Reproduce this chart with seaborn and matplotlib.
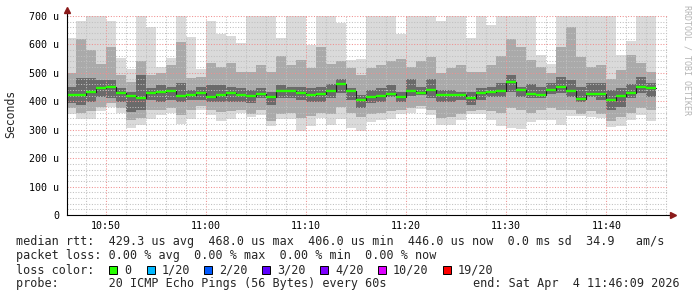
import numpy as np
import pandas as pd
import matplotlib
matplotlib.use("Agg")
import matplotlib.pyplot as plt
from matplotlib.patches import Rectangle
from matplotlib.ticker import FixedLocator, MultipleLocator
import seaborn as sns

# ---------------- data (values in microseconds) ----------------
bar_start = pd.date_range("2026-04-04 10:46", "2026-04-04 11:44", freq="1min")

median = [421, 421, 433, 446, 450, 429, 418, 411, 428, 432, 435, 418, 421, 428, 414,
          421, 428, 422, 418, 425, 415, 436, 436, 428, 421, 425, 436, 461, 435, 406,
          414, 419, 425, 415, 436, 429, 440, 422, 422, 422, 412, 429, 433, 436, 468,
          438, 426, 422, 440, 450, 436, 408, 426, 425, 406, 419, 429, 450, 446]

ping_max = [621, 684, 700, 700, 682, 553, 515, 700, 660, 522, 553, 700, 627, 515, 682,
            638, 630, 604, 700, 700, 700, 621, 700, 700, 597, 700, 700, 675, 546, 547,
            700, 700, 700, 638, 700, 700, 700, 681, 700, 700, 623, 700, 667, 700, 700,
            700, 700, 563, 530, 700, 700, 700, 700, 700, 700, 563, 612, 700, 700]

ping_min = [357, 339, 336, 365, 380, 359, 306, 316, 336, 351, 359, 321, 339, 371, 351,
            331, 336, 359, 345, 351, 312, 336, 339, 294, 312, 341, 318, 339, 306, 296,
            327, 333, 336, 357, 359, 374, 351, 316, 316, 333, 357, 357, 333, 312, 306,
            302, 327, 333, 333, 318, 350, 347, 345, 341, 310, 312, 333, 351, 331]

mid_hi = [499, 620, 580, 530, 590, 493, 469, 540, 493, 500, 528, 609, 481, 485, 534,
          522, 534, 504, 504, 528, 504, 560, 528, 544, 516, 590, 532, 540, 516, 493,
          516, 528, 540, 550, 520, 540, 555, 500, 516, 528, 504, 504, 528, 560, 620,
          592, 545, 520, 500, 592, 660, 557, 522, 528, 480, 510, 563, 534, 504]

mid_lo = [375, 358, 365, 380, 395, 375, 335, 340, 369, 370, 375, 352, 370, 385, 370,
          363, 365, 370, 355, 370, 330, 355, 360, 340, 350, 360, 355, 380, 360, 345,
          355, 360, 365, 370, 375, 385, 370, 340, 345, 355, 365, 370, 365, 360, 375,
          370, 360, 370, 375, 370, 370, 355, 365, 355, 330, 345, 360, 375, 370]

core_hi = [452, 481, 481, 475, 475, 446, 434, 493, 446, 457, 451, 465, 440, 450, 457,
           457, 451, 446, 440, 446, 434, 457, 451, 451, 446, 451, 460, 480, 446, 422,
           440, 446, 457, 434, 480, 451, 480, 440, 440, 434, 434, 446, 451, 465, 493,
           451, 460, 450, 464, 487, 475, 451, 464, 464, 440, 446, 460, 487, 463]

core_lo = [393, 387, 399, 416, 410, 399, 364, 370, 405, 399, 405, 399, 405, 405, 399,
           399, 399, 399, 393, 410, 387, 410, 410, 405, 399, 399, 410, 430, 405, 375,
           393, 399, 416, 399, 420, 422, 410, 399, 399, 405, 387, 405, 416, 416, 434,
           416, 410, 410, 425, 430, 416, 399, 416, 405, 369, 381, 410, 428, 416]

y_ticks = [0, 100, 200, 300, 400, 500, 600, 700]
y_tick_labels = ["0", "100 u", "200 u", "300 u", "400 u", "500 u", "600 u", "700 u"]
x_ticks = ["10:50", "11:00", "11:10", "11:20", "11:30", "11:40"]

loss_labels = ["0", "1/20", "2/20", "3/20", "4/20", "10/20", "19/20"]
loss_colors = ["#26ff00", "#00b8ff", "#0059ff", "#5e00ff", "#7e00ff", "#dd00ff", "#ff0000"]

legend_rows = [
    "median rtt:  429.3 us avg  468.0 us max  406.0 us min  446.0 us now  0.0 ms sd  34.9   am/s",
    "packet loss: 0.00 % avg  0.00 % max  0.00 % min  0.00 % now",
    "loss color:",
    "probe:       20 ICMP Echo Pings (56 Bytes) every 60s",
]
end_text = "end: Sat Apr  4 11:46:09 2026"
watermark = "RRDTOOL / TOBI OETIKER"

# ---------------- figure ----------------
sns.set_theme(style="white")
plt.rcParams['font.family'] = ['DejaVu Sans Mono', 'DejaVu Sans']

W, H = 697, 297
fig = plt.figure(figsize=(W / 100, H / 100), dpi=100, facecolor="white")
ax = fig.add_axes([67 / W, (H - 215) / H, (668 - 67) / W, 199 / H])
ax.set_facecolor("white")

def to_min(ts):
    return (ts.hour - 10) * 60 + ts.minute + ts.second / 60.0

x0 = np.array([to_min(t) for t in bar_start])
med = np.array(median, float)

def band(lo, hi, color, z):
    lo = np.array(lo, float); hi = np.array(hi, float)
    ax.bar(x0, hi - lo, bottom=lo, width=1.0, align="edge", color=color,
           linewidth=0, zorder=z)

band(ping_min, ping_max, "#dadada", 1.0)
band(mid_lo, mid_hi, "#aaaaaa", 1.1)
band(core_lo, core_hi, "#6a6a6a", 1.2)

# median: dark step line + loss coloured segments
step_df = pd.DataFrame({"t": np.append(x0, x0[-1] + 1), "rtt": np.append(med, med[-1])})
sns.lineplot(data=step_df, x="t", y="rtt", ax=ax, drawstyle="steps-post",
             color="#202020", linewidth=0.8, zorder=3)
ax.hlines(med, x0, x0 + 1, colors=loss_colors[0], linewidth=1.7, zorder=4)

start_min = 46 + 9 / 60
ax.set_xlim(start_min, start_min + 60)
ax.set_ylim(0, 700)
ax.set_xlabel("")
ax.set_ylabel("")

ax.xaxis.set_major_locator(FixedLocator([50, 60, 70, 80, 90, 100]))
ax.set_xticklabels(x_ticks)
ax.xaxis.set_minor_locator(MultipleLocator(2))
ax.yaxis.set_major_locator(FixedLocator(y_ticks))
ax.set_yticklabels(y_tick_labels)
ax.yaxis.set_minor_locator(MultipleLocator(20))

ax.set_axisbelow(False)
ax.grid(which="minor", color="#c0c0c0", linewidth=0.75, linestyle=(0, (1, 1.6)), zorder=2.5)
ax.grid(which="major", color="#f09090", linewidth=0.75, linestyle=(0, (1, 1.6)), zorder=2.6)

ax.tick_params(which="major", direction="inout", length=3, width=0.7, colors="black",
               labelsize=7.2, pad=4)
ax.tick_params(which="minor", direction="inout", length=2, width=0.6, color="black")
ax.tick_params(axis="x", pad=3)

for s in ["top", "right"]:
    ax.spines[s].set_visible(False)
for s in ["left", "bottom"]:
    ax.spines[s].set_color("black")
    ax.spines[s].set_linewidth(0.8)
    ax.spines[s].set_zorder(5)

# axis extensions and arrows
ax.plot([0, 0], [1.0, 1.025], transform=ax.transAxes, color="black", lw=0.8, clip_on=False)
ax.plot([1.0, 1.004], [0, 0], transform=ax.transAxes, color="black", lw=0.8, clip_on=False)
ax.plot([0], [1.03], marker="^", markersize=4, color="#8b1a1a", transform=ax.transAxes,
        clip_on=False, zorder=6)
ax.plot([1.008], [0], marker=">", markersize=4, color="#8b1a1a", transform=ax.transAxes,
        clip_on=False, zorder=6)

# texts
fig.text(11 / W, 1 - 114 / H, "Seconds", rotation=90, fontsize=8.3, ha="center", va="center")
fig.text(687 / W, 1 - 60 / H, watermark, rotation=270, fontsize=6, color="#b4b4b4",
         ha="center", va="center")

row_y = [241, 256, 270, 284]
for txt, yy in zip(legend_rows, row_y):
    fig.text(16 / W, 1 - yy / H, txt, fontsize=8.5, ha="left", va="center")
fig.text(680 / W, 1 - row_y[3] / H, end_text, fontsize=8.5, ha="right", va="center")

box_x = [109, 147, 204, 262, 320, 378, 443]
for bx, lab, col in zip(box_x, loss_labels, loss_colors):
    fig.add_artist(Rectangle((bx / W, 1 - (row_y[2] + 4) / H), 8 / W, 8 / H,
                             transform=fig.transFigure, facecolor=col,
                             edgecolor="black", linewidth=0.7))
    fig.text((bx + 15) / W, 1 - row_y[2] / H, lab, fontsize=8.5, ha="left", va="center")

fig.savefig("out.png", dpi=100, facecolor="white")
